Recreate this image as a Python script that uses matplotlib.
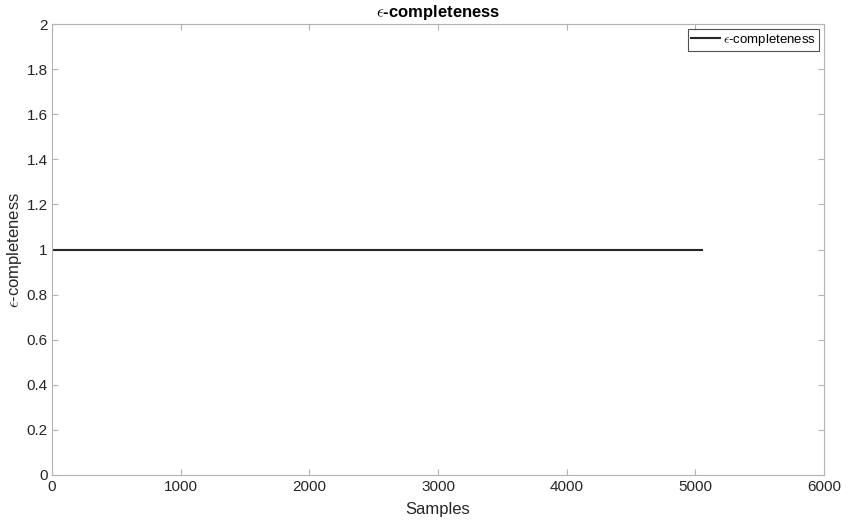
import matplotlib
matplotlib.use("Agg")
import matplotlib.pyplot as plt

plt.rcParams['font.family'] = ['Liberation Sans', 'DejaVu Sans']
plt.rcParams['mathtext.fontset'] = 'cm'

# data: completeness stays at 1 for every sample
samples = [1, 5050]
completeness = [1, 1]

x_ticks = [0, 1000, 2000, 3000, 4000, 5000, 6000]
y_ticks = [0, 0.2, 0.4, 0.6, 0.8, 1, 1.2, 1.4, 1.6, 1.8, 2]
y_tick_labels = ['0', '0.2', '0.4', '0.6', '0.8', '1', '1.2', '1.4', '1.6', '1.8', '2']

fig = plt.figure(figsize=(8.51, 5.21), dpi=100)
ax = fig.add_axes([0.0611, 0.0883, 0.9072, 0.8656])

ax.plot(samples, completeness, color='#262626', linewidth=1.5, label=r'$\epsilon$-completeness')

ax.set_xlim(0, 6000)
ax.set_ylim(0, 2)
ax.set_xticks(x_ticks)
ax.set_yticks(y_ticks)
ax.set_yticklabels(y_tick_labels)

for s in ax.spines.values():
    s.set_color('#b3b3b3')
    s.set_linewidth(0.8)
ax.tick_params(direction='in', top=True, right=True, length=4, color='#b3b3b3',
               labelcolor='#262626', labelsize=11, width=0.8)
ax.tick_params(axis='y', pad=3)

ax.set_xlabel('Samples', fontsize=12, color='#262626', labelpad=6)
ax.set_ylabel(r'$\epsilon$-completeness', fontsize=12, color='#262626', labelpad=2)
ax.set_title(r'$\epsilon$-completeness', fontsize=12, fontweight='bold', color='black', pad=5)

leg = ax.legend(loc='upper right', fontsize=9.5, frameon=True, fancybox=False,
                borderpad=0.25, handlelength=2.2, handletextpad=0.2,
                borderaxespad=0.35)
leg.get_frame().set_edgecolor('#262626')
leg.get_frame().set_linewidth(0.8)

fig.savefig('out.png', dpi=100)
